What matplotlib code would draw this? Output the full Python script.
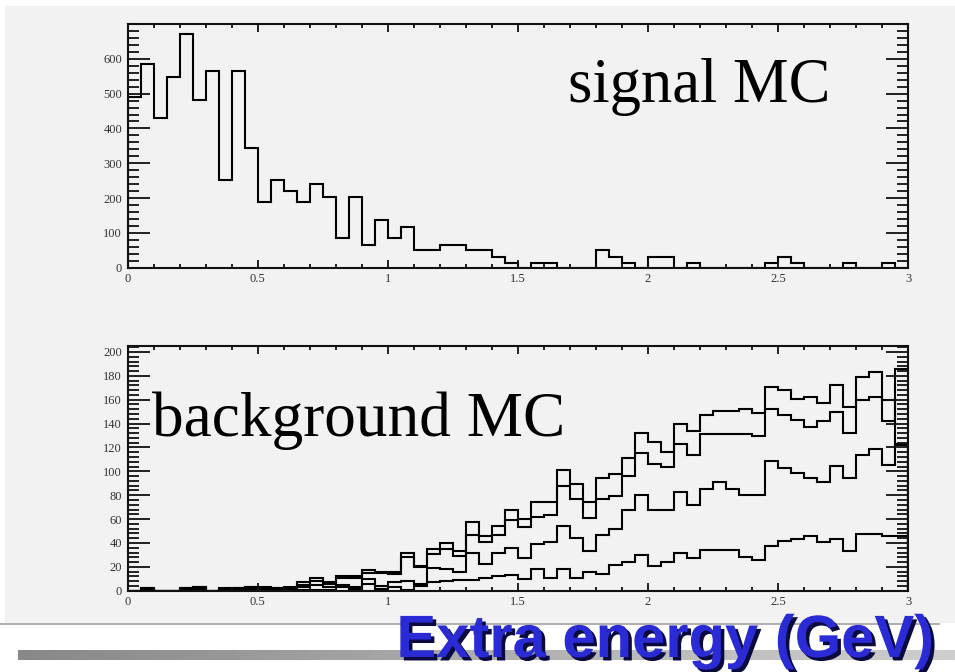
import numpy as np
import matplotlib
matplotlib.use("Agg")
import matplotlib.pyplot as plt
import matplotlib.patheffects as pe
from matplotlib.ticker import MultipleLocator

# bin edges: 60 bins of 0.05 GeV between 0 and 3
edges = np.linspace(0.0, 3.0, 61)

# signal MC counts per bin
signal = [490, 585, 429, 547, 670, 481, 566, 253, 566, 345,
          188, 253, 219, 188, 240, 202, 84, 202, 65, 136,
          84, 117, 51, 51, 65, 65, 51, 51, 32, 13,
          0, 13, 13, 0, 0, 0, 51, 32, 13, 0,
          32, 32, 0, 13, 0, 0, 0, 0, 0, 13,
          32, 13, 0, 0, 0, 13, 0, 0, 13, 0]

# background MC, four samples
bkg_a = [0, 2, 0, 0, 2, 3.5, 0, 2, 2.5, 3,
         3, 2, 3, 7, 11, 7, 12, 12, 17, 16,
         16, 32, 21, 35, 40, 33, 57.5, 45.5, 54, 67.5,
         60, 74, 74, 101, 89, 74, 94, 98, 111.5, 132,
         124.5, 116, 140, 133.5, 147.5, 150.5, 150.5, 152, 148.5, 170.5,
         168, 161, 162.5, 157, 172, 154, 179, 183, 142, 186]
bkg_b = [0, 2, 0, 0, 2, 3, 0, 1, 2, 3,
         2.5, 2, 2.5, 5, 8, 6, 10.5, 10.5, 15, 14.5,
         14, 28, 20, 31, 35, 29, 47, 40.5, 47, 59.5,
         53.5, 62, 63.5, 88, 77, 61, 77, 79, 96.5, 115,
         106.5, 103.5, 122.5, 114, 131.5, 131.5, 131, 131, 129.5, 152,
         147.5, 143, 137.5, 142, 149.5, 132.5, 159.5, 162.5, 160, 122]
bkg_c = [0, 1, 0, 0, 1, 1.5, 0, 1, 1, 2,
         2, 1, 2, 3, 4.5, 3, 4.8, 2.8, 10, 4,
         7, 8, 6, 19, 18.5, 15.5, 32, 22.5, 32, 36,
         27.5, 39, 40.5, 54.5, 44, 33, 46.5, 52, 67.5, 80,
         68, 68, 82.5, 72, 85.5, 91, 85.5, 80, 80, 109,
         103, 98.5, 94, 91, 104.5, 94, 113.5, 118.5, 105, 122.5]
bkg_d = [0, 0, 0, 0, 0, 0, 0, 0, 0, 1,
         1, 0, 1, 1, 1, 1, 2.8, 1.1, 6, 1.1,
         3, 1, 4, 7.5, 8.5, 9, 9.3, 10.5, 12, 13,
         9.5, 18, 11, 18, 11, 15.5, 14, 21.5, 24, 29.5,
         21, 24, 32, 27, 34, 34, 34, 28, 25.5, 37.5,
         42, 43, 45.5, 40.5, 43, 33.5, 47.5, 47.5, 46, 46]

x_ticks = [0, 0.5, 1, 1.5, 2, 2.5, 3]
x_tick_labels = ["0", "0.5", "1", "1.5", "2", "2.5", "3"]

W, H = 955, 672
fig = plt.figure(figsize=(W / 100, H / 100), dpi=100)
fig.patch.set_facecolor("white")

# slide panel behind the plots
panel_bg = "#f2f2f2"
fig.patches.append(plt.Rectangle((5 / W, 1 - 623 / H), 950 / W, 617 / H,
                                 transform=fig.transFigure, facecolor=panel_bg,
                                 edgecolor="none", zorder=-2))
fig.patches.append(plt.Rectangle((0, 1 - 625 / H), 940 / W, 2 / H,
                                 transform=fig.transFigure, facecolor="#b0b0b0",
                                 edgecolor="none", zorder=-2))
# grey bar under the axis title
bar_colors = plt.cm.Greys(np.linspace(0.55, 0.3, 200))
bar_ax = fig.add_axes([18 / W, 1 - 660 / H, (W - 18) / W, 10 / H], zorder=-1)
bar_ax.imshow(bar_colors[np.newaxis, :, :3], aspect="auto")
bar_ax.axis("off")


def frame(ax, ymax, ymajor, yminor, ylabels):
    ax.set_facecolor(panel_bg)
    ax.set_xlim(0, 3)
    ax.set_ylim(0, ymax)
    ax.set_xticks(x_ticks)
    ax.set_xticklabels(x_tick_labels)
    ax.xaxis.set_minor_locator(MultipleLocator(0.1))
    ax.yaxis.set_major_locator(MultipleLocator(ymajor))
    ax.yaxis.set_minor_locator(MultipleLocator(yminor))
    ax.set_yticks(ylabels)
    ax.tick_params(direction="in", top=True, right=True, which="both",
                   width=1.3, color="#111111")
    ax.tick_params(axis="x", which="major", length=6, pad=4)
    ax.tick_params(axis="x", which="minor", length=3)
    ax.tick_params(axis="y", which="major", length=16, pad=4)
    ax.tick_params(axis="y", which="minor", length=8)
    for lab in ax.get_xticklabels() + ax.get_yticklabels():
        lab.set_fontfamily("Liberation Serif")
        lab.set_fontsize(9)
        lab.set_color("#333333")
    for sp in ax.spines.values():
        sp.set_linewidth(1.5)
        sp.set_color("#111111")


# signal MC
ax1 = fig.add_axes([127.7 / W, 1 - 267.7 / H, 780.3 / W, 243.7 / H])
ax1.stairs(signal, edges, color="black", linewidth=1.5)
frame(ax1, 700, 100, 20, list(range(0, 700, 100)))
ax1.text(568 / W, 1 - 101.7 / H, "signal MC", transform=fig.transFigure,
         fontfamily="Liberation Serif", fontsize=45, color="black",
         ha="left", va="baseline")

# background MC
ax2 = fig.add_axes([127.7 / W, 1 - 590.7 / H, 780.3 / W, 244.7 / H])
for h in (bkg_a, bkg_b, bkg_c, bkg_d):
    ax2.stairs(h, edges, color="black", linewidth=1.5)
frame(ax2, 205, 20, 4, list(range(0, 201, 20)))
ax2.text(152 / W, 1 - 436 / H, "background MC", transform=fig.transFigure,
         fontfamily="Liberation Serif", fontsize=45.5, color="black",
         ha="left", va="baseline")

# axis title
fig.text(935 / W, 1 - 657 / H, "Extra energy (GeV)",
         fontfamily="Liberation Sans", fontweight="bold", fontsize=43,
         color="#2b2bd6", ha="right", va="baseline", zorder=5,
         path_effects=[pe.withSimplePatchShadow(offset=(2.5, -2.5),
                                                shadow_rgbFace="#0a0a40",
                                                alpha=1.0)])

fig.savefig("out.png", dpi=100, facecolor=fig.get_facecolor())
